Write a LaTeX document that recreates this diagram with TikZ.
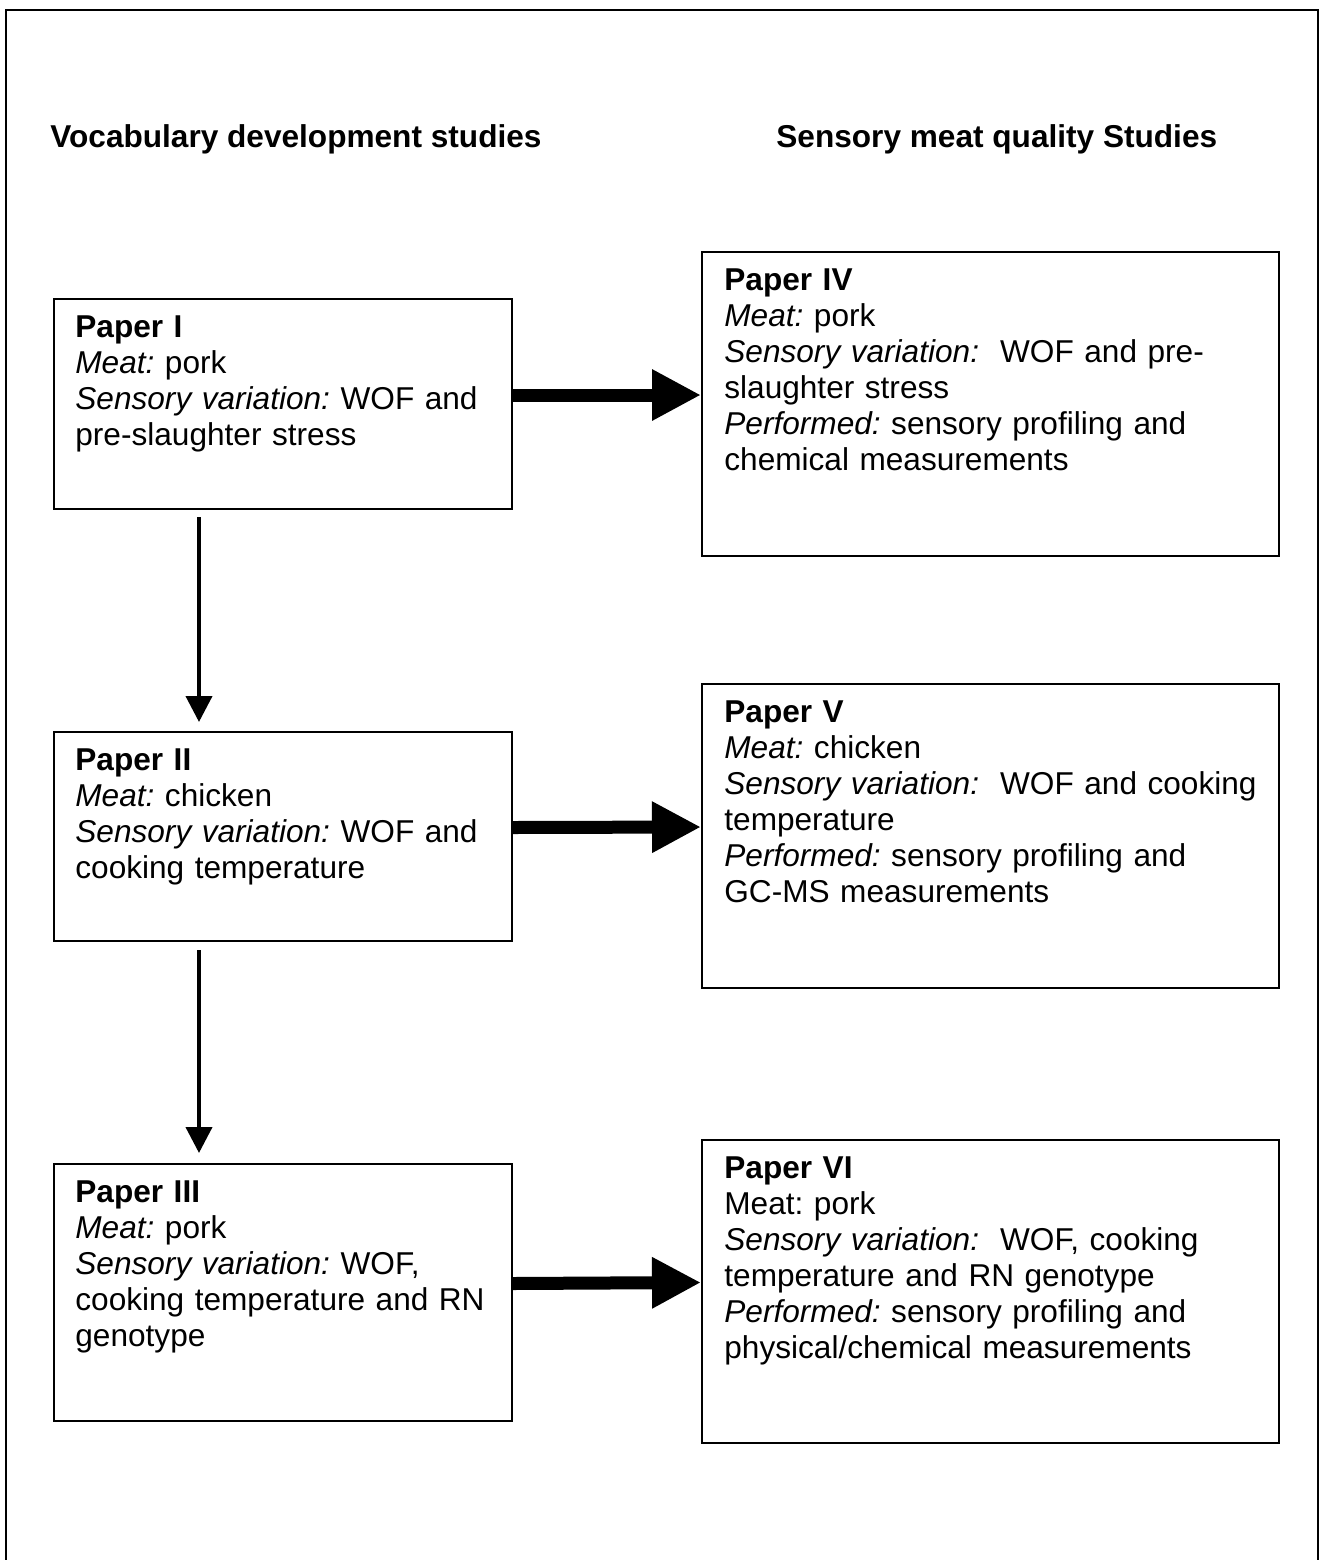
\documentclass[tikz,border=0pt]{standalone}
\usepackage{fontspec}
\setmainfont{Liberation Sans}
\usetikzlibrary{arrows.meta, calc, positioning}

\newcommand{\papertext}{\fontsize{15.8}{18}\selectfont\frenchspacing}
\newcommand{\lab}[1]{{\itshape #1}}

\begin{document}
\begin{tikzpicture}[x=0.5pt, y=-0.5pt, font=\papertext,
    paper/.style={draw, line width=1pt, anchor=north west, inner sep=0pt},
    leftpaper/.style={paper, minimum width=229pt},
    rightpaper/.style={paper, minimum width=288.5pt},
    txt/.style={anchor=base west, inner sep=0pt, text width=#1, align=left},
    txt/.default=250pt,
    head/.style={anchor=base west, inner sep=0pt, font=\papertext\bfseries},
    thinarrow/.style={line width=2pt, -{Triangle[length=13pt, width=13pt]}},
    thickarrow/.style={line width=6.5pt, -{Triangle[length=24.5pt, width=24pt]}}]
    \def\shaftUp{4.5pt}
    \def\colOff{-42pt}

    \useasboundingbox (0, 0) rectangle (1320, 1560);

    % Draw outer frame (runs off the bottom)
    \draw[line width=1.2pt] (6, 1560) -- (6, 10) -- (1318, 10) -- (1318, 1560);

    % Column headings
    \node[head] (hvoc) at (50, 147) {Vocabulary development studies};
    \node[head] (hsens) at (776, 147) {Sensory meat quality Studies};

    % Vocabulary papers
    \node[leftpaper, minimum height=105pt] (p1) at (53, 298) {};
    \node[leftpaper, minimum height=104.5pt] (p2) at (53, 731) {};
    \node[leftpaper, minimum height=128.5pt] (p3) at (53, 1163) {};

    % Sensory quality papers
    \node[rightpaper, minimum height=152pt] (p4) at (701, 251) {};
    \node[rightpaper, minimum height=152pt] (p5) at (701, 683) {};
    \node[rightpaper, minimum height=151.5pt] (p6) at (701, 1139) {};

    % Box texts
    \node[txt] (t1) at ([xshift=11pt, yshift=-19.5pt]p1.north west)
        {\textbf{Paper I}\\ \lab{Meat:} pork\\ \lab{Sensory variation:} WOF and\\ pre-slaughter stress};
    \node[txt] (t2) at ([xshift=11pt, yshift=-19.5pt]p2.north west)
        {\textbf{Paper II}\\ \lab{Meat:} chicken\\ \lab{Sensory variation:} WOF and\\ cooking temperature};
    \node[txt] (t3) at ([xshift=11pt, yshift=-19.5pt]p3.north west)
        {\textbf{Paper III}\\ \lab{Meat:} pork\\ \lab{Sensory variation:} WOF,\\ cooking temperature and RN\\ genotype};
    \node[txt=300pt] (t4) at ([xshift=11.5pt, yshift=-19.5pt]p4.north west)
        {\textbf{Paper IV}\\ \lab{Meat:} pork\\ \lab{Sensory variation:}\ \ WOF and pre-\\ slaughter stress\\ \lab{Performed:} sensory profiling and\\ chemical measurements};
    \node[txt=300pt] (t5) at ([xshift=11.5pt, yshift=-19.5pt]p5.north west)
        {\textbf{Paper V}\\ \lab{Meat:} chicken\\ \lab{Sensory variation:}\ \ WOF and cooking\\ temperature\\ \lab{Performed:} sensory profiling and\\ GC-MS measurements};
    \node[txt=300pt] (t6) at ([xshift=11.5pt, yshift=-19.5pt]p6.north west)
        {\textbf{Paper VI}\\ Meat: pork\\ \lab{Sensory variation:}\ \ WOF, cooking\\ temperature and RN genotype\\ \lab{Performed:} sensory profiling and\\ physical/chemical measurements};

    % Thin arrows down the left column
    \draw[thinarrow] ([xshift=\colOff, yshift=-3.5pt]p1.south) -- ([xshift=\colOff, yshift=4.5pt]p2.north);
    \draw[thinarrow] ([xshift=\colOff, yshift=-4pt]p2.south) -- ([xshift=\colOff, yshift=5pt]p3.north);

    % Thick arrows across
    \draw[thickarrow] ([yshift=\shaftUp]p1.east) -- ([yshift=\shaftUp]p4.west);
    \draw[thickarrow] ([yshift=\shaftUp]p2.east) -- ([yshift=\shaftUp]p5.west);
    \draw[thickarrow] ([yshift=\shaftUp]p3.east) -- ([yshift=\shaftUp]p6.west);
\end{tikzpicture}
\end{document}
